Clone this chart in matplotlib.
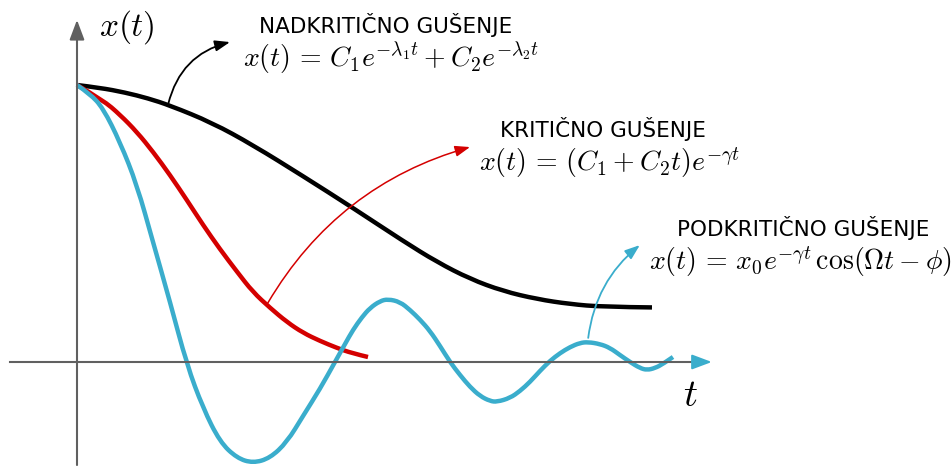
import matplotlib.pyplot as plt
import numpy as np
from matplotlib.path import Path
from matplotlib.patches import PathPatch

plt.rcParams["mathtext.fontset"] = "cm"

# values (t in arbitrary units, x normalised so x(0) = 1)
t_over = [0, 0.383, 0.8, 1.183, 1.55, 2.25, 2.933, 3.767, 4.6, 5.433, 6.0,
          6.55, 7.1, 7.667, 8.217, 8.767, 9.583]
x_over = [1.0, 0.990, 0.973, 0.952, 0.926, 0.864, 0.783, 0.671, 0.556, 0.437,
          0.361, 0.300, 0.256, 0.227, 0.209, 0.199, 0.197]

t_crit = [0, 0.43, 0.72, 1.0, 1.27, 1.55, 1.83, 2.1, 2.38, 2.67, 2.93, 3.22,
          3.5, 3.77, 4.05, 4.33, 4.58, 4.85]
x_crit = [1.0, 0.946, 0.892, 0.830, 0.758, 0.675, 0.585, 0.495, 0.408, 0.325,
          0.253, 0.195, 0.144, 0.105, 0.076, 0.051, 0.032, 0.018]

t_under = [0, 0.217, 0.433, 0.717, 1.0, 1.267, 1.55, 1.833, 2.1, 2.383, 2.667,
           2.933, 3.217, 3.5, 3.767, 4.05, 4.3, 4.467, 4.6, 4.75, 4.883, 5.05,
           5.183, 5.383, 5.55, 5.717, 5.883, 6.05, 6.217, 6.383, 6.55, 6.717,
           6.883, 7.0, 7.217, 7.383, 7.55, 7.717, 7.883, 8.05, 8.217, 8.383,
           8.517, 8.717, 8.883, 9.05, 9.217, 9.383, 9.5, 9.633, 9.767, 9.933]
x_under = [1.0, 0.968, 0.917, 0.794, 0.639, 0.433, 0.217, -0.011, -0.166,
           -0.289, -0.347, -0.365, -0.347, -0.289, -0.195, -0.097, 0.0, 0.065,
           0.116, 0.162, 0.195, 0.220, 0.227, 0.217, 0.188, 0.153, 0.112,
           0.058, 0.0, -0.047, -0.090, -0.123, -0.141, -0.144, -0.130, -0.105,
           -0.072, -0.032, 0.004, 0.032, 0.054, 0.069, 0.072, 0.065, 0.051,
           0.025, 0.0, -0.022, -0.029, -0.022, -0.007, 0.018]

BLUE = "#3aadcc"
RED = "#d40000"
GRAY = "#606060"


def smooth_curve(ax, t, x, color):
    # quadratic bezier through the read points (points act as control points)
    pts = np.column_stack([t, x])
    verts = [pts[0]]
    codes = [Path.MOVETO]
    for i in range(1, len(pts) - 1):
        mid = (pts[i] + pts[i + 1]) / 2
        if i == len(pts) - 2:
            mid = pts[i + 1]
        verts += [pts[i], mid]
        codes += [Path.CURVE3, Path.CURVE3]
    patch = PathPatch(Path(verts, codes), facecolor="none", edgecolor=color,
                      lw=3.2, capstyle="butt", joinstyle="round")
    ax.add_patch(patch)


fig = plt.figure(figsize=(9.52, 4.66), dpi=100)
ax = fig.add_axes([0, 0, 1, 1])
ax.set_xlim(-1.2833, 14.5833)
ax.set_ylim(-0.3755, 1.3069)
ax.axis("off")

# axes with arrows
ax.annotate("", xy=(0, 1.235), xytext=(0, -0.372),
            arrowprops=dict(arrowstyle="-|>,head_length=0.8,head_width=0.3",
                            color=GRAY, lw=1.5, mutation_scale=15,
                            shrinkA=0, shrinkB=0))
ax.plot([-1.117, 10.3], [0, 0], color=GRAY, lw=1.5)
ax.annotate("", xy=(10.58, 0), xytext=(10.25, 0),
            arrowprops=dict(arrowstyle="-|>,head_length=0.8,head_width=0.3",
                            color=BLUE, lw=1.5, mutation_scale=15,
                            shrinkA=0, shrinkB=0))

smooth_curve(ax, t_over, x_over, "black")
smooth_curve(ax, t_crit, x_crit, RED)
smooth_curve(ax, t_under, x_under, BLUE)

head = "-|>,head_length=0.6,head_width=0.22"
ax.annotate("", xy=(2.55, 1.155), xytext=(1.52, 0.931),
            arrowprops=dict(arrowstyle=head, color="black", lw=1.3,
                            mutation_scale=15, shrinkA=0, shrinkB=0,
                            connectionstyle="arc3,rad=-0.3"))
ax.annotate("", xy=(6.55, 0.776), xytext=(3.18, 0.213),
            arrowprops=dict(arrowstyle=head, color=RED, lw=1.1,
                            mutation_scale=15, shrinkA=0, shrinkB=0,
                            connectionstyle="arc3,rad=-0.2"))
ax.annotate("", xy=(9.38, 0.422), xytext=(8.52, 0.087),
            arrowprops=dict(arrowstyle=head, color=BLUE, lw=1.3,
                            mutation_scale=15, shrinkA=0, shrinkB=0,
                            connectionstyle="arc3,rad=-0.2"))

# labels
ax.text(0.83, 1.209, r"$x(t)$", fontsize=24, ha="center", va="center")
ax.text(10.22, -0.119, r"$t$", fontsize=28, ha="center", va="center")

cap = dict(fontsize=15.5, ha="center", va="center", family="DejaVu Sans")
ax.text(5.15, 1.217, "NADKRITIČNO GUŠENJE", **cap)
ax.text(5.23, 1.097,
        r"$x(t)\,=\,C_1e^{-\lambda_1 t} + C_2e^{-\lambda_2 t}$",
        fontsize=20, ha="center", va="center")
ax.text(8.77, 0.841, "KRITIČNO GUŠENJE", **cap)
ax.text(8.88, 0.718, r"$x(t)\,=\,(C_1 + C_2 t)e^{-\gamma t}$",
        fontsize=20, ha="center", va="center")
ax.text(12.1, 0.484, "PODKRITIČNO GUŠENJE", **cap)
ax.text(12.05, 0.361,
        r"$x(t)\,=\,x_0e^{-\gamma t}\,\cos(\Omega t - \phi)$",
        fontsize=20, ha="center", va="center")

fig.savefig("out.png", dpi=100)
